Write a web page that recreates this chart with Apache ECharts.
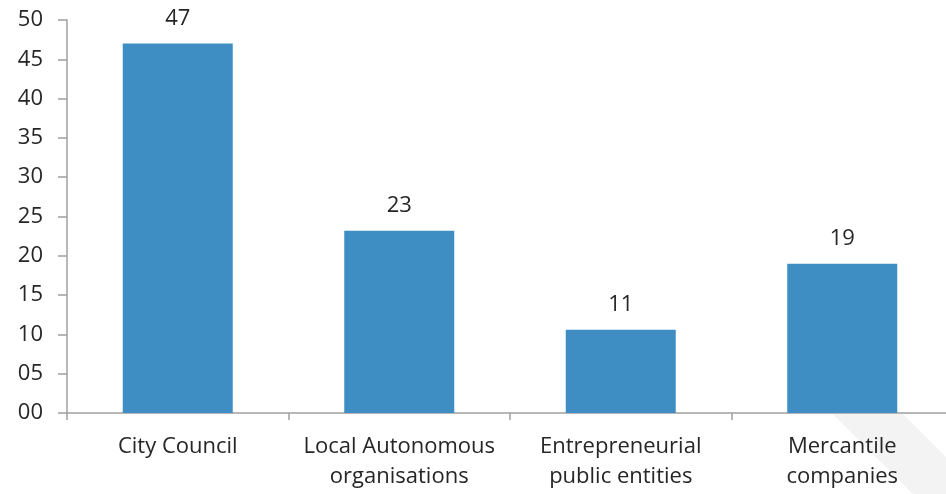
<!DOCTYPE html>
<html>
<head>
<meta charset="utf-8">
<script src="https://cdn.jsdelivr.net/npm/echarts@6/dist/echarts.min.js"></script>
<style>
html,body{margin:0;padding:0;background:#fff;overflow:hidden;width:946px;height:494px;}
#chart{width:960px;height:494px;}
</style>
</head>
<body>
<div id="chart"></div>
<script>
var categories = ['City Council', 'Local Autonomous\norganisations', 'Entrepreneurial\npublic entities', 'Mercantile\ncompanies'];
var values = [47, 23.2, 10.6, 19];
var yTicks = { min: 0, max: 50, interval: 5 };

var chart = echarts.init(document.getElementById('chart'), null, { renderer: 'canvas' });
var font = '"Open Sans", sans-serif';
chart.setOption({
  animation: false,
  backgroundColor: '#ffffff',
  grid: { left: 67, top: 20, bottom: 81, right: 7, containLabel: false },
  graphic: [{
    type: 'polygon',
    z: -10,
    silent: true,
    shape: { points: [[833, 414], [903, 414], [960, 471], [960, 494], [913, 494]] },
    style: { fill: '#f3f3f3' }
  }],
  xAxis: {
    type: 'category',
    data: categories,
    axisLine: { lineStyle: { color: '#a0a0a0', width: 1.5 } },
    axisTick: { show: true, length: 7, lineStyle: { color: '#a0a0a0', width: 1.5 } },
    axisLabel: { color: '#262626', fontFamily: font, fontSize: 22, lineHeight: 30, margin: 19, interval: 0 },
    splitLine: { show: false }
  },
  yAxis: {
    type: 'value',
    min: yTicks.min, max: yTicks.max, interval: yTicks.interval,
    axisLine: { show: true, lineStyle: { color: '#a0a0a0', width: 1.5 } },
    axisTick: { show: true, length: 9, lineStyle: { color: '#a0a0a0', width: 1.5 } },
    axisLabel: {
      color: '#262626', fontFamily: font, fontSize: 22, margin: 24,
      formatter: function (v) { return String(v).padStart(2, '0'); }
    },
    splitLine: { show: false }
  },
  series: [{
    type: 'bar',
    data: values,
    barWidth: 110,
    itemStyle: { color: '#3e8ec4' },
    label: {
      show: true, position: 'top', distance: 14,
      color: '#262626', fontFamily: font, fontSize: 22,
      formatter: function (p) { return Math.round(p.value); }
    }
  }]
});
</script>
</body>
</html>
